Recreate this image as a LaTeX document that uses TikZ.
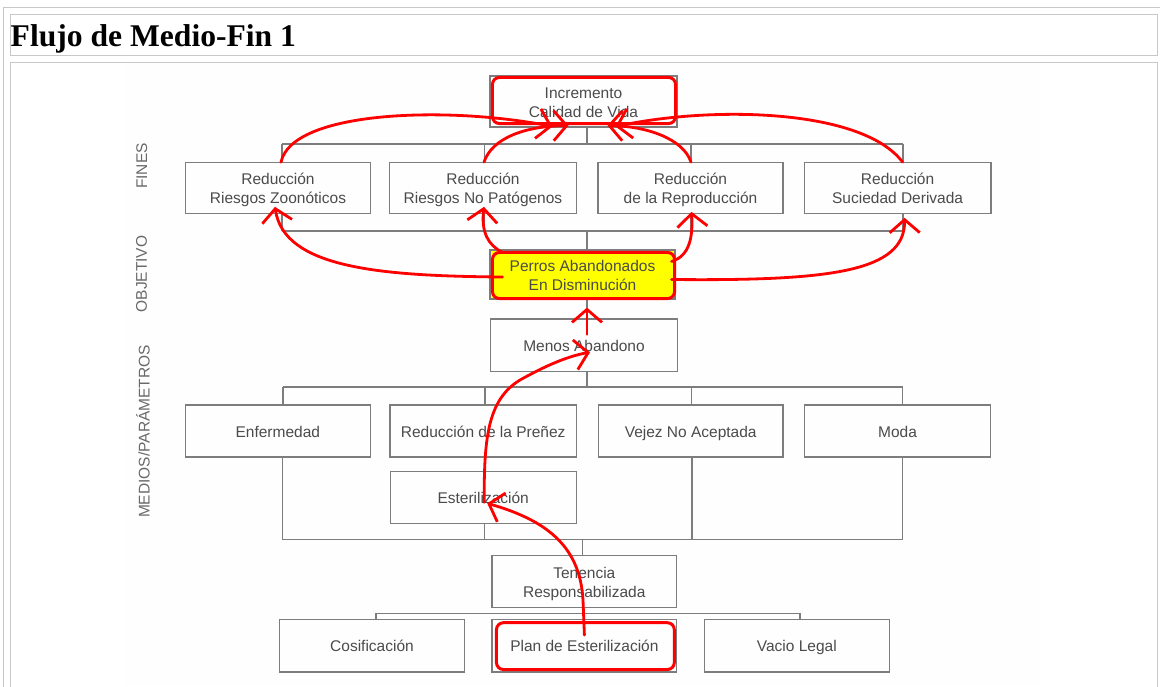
\documentclass[tikz,border=0pt]{standalone}
\usepackage{fontspec}
\setmainfont{Liberation Serif}
\setsansfont{Liberation Sans}
\usetikzlibrary{arrows.meta,calc}
\definecolor{framegray}{RGB}{200,200,200}
\definecolor{boxgray}{RGB}{125,125,125}
\definecolor{txtgray}{RGB}{75,75,75}
\definecolor{lblgray}{RGB}{105,105,105}
\definecolor{bgimg}{RGB}{253,254,253}
\definecolor{hlred}{RGB}{255,0,0}
\definecolor{hlyellow}{RGB}{255,255,0}
\newcommand\mystrut{\rule[-3.5pt]{0pt}{19pt}}
\begin{document}
\begin{tikzpicture}[x=1pt,y=1pt,
  box/.style={draw=boxgray, line width=1.1pt, inner sep=0pt, align=center,
    text=txtgray, font=\sffamily\fontsize{15.5}{19}\selectfont},
  lbl/.style={font=\sffamily\fontsize{15.5}{18}\selectfont, text=lblgray, inner sep=0pt},
  conn/.style={draw=boxgray, line width=1.1pt},
  hl/.style={draw=hlred, line width=3pt, rounded corners=7pt},
  redarr/.style={draw=hlred, line width=2.8pt, line cap=round,
    -{Straight Barb[length=13pt,width=30pt]}}
]
\useasboundingbox (0,0) rectangle (1160,-686);
\fill[white] (0,0) rectangle (1160,-686);
% page frame
\draw[framegray, line width=1pt] (3.5,-690) -- (3.5,-7.5) -- (1165,-7.5);
\draw[framegray, line width=1pt] (10.5,-14.5) rectangle (1157.5,-55);
\draw[framegray, line width=1pt] (10.5,-690) -- (10.5,-62) -- (1157.5,-62) -- (1157.5,-690);
\fill[bgimg] (125,-63) rectangle (1041,-686);
\node[anchor=base west, inner sep=0pt, font=\bfseries\fontsize{31.6}{36}\selectfont] (title) at (10.5,-46) {Flujo de Medio-Fin 1};

% side labels
\node[lbl, rotate=90] (lfin) at (141.7,-166) {FINES};
\node[lbl, rotate=90] (lobj) at (141.5,-274) {OBJETIVO};
\node[lbl, rotate=90] (lmed) at (143,-431.5) {MEDIOS/PARÁMETROS};

% boxes
\node[box, minimum width=187pt, minimum height=51pt] (inc) at (583.5,-101.5) {\mystrut Incremento\\\mystrut Calidad de Vida};
\node[box, minimum width=185pt, minimum height=50.6pt] (zoo) at (278,-188) {\mystrut Reducción\\\mystrut Riesgos Zoonóticos};
\node[box, minimum width=187pt, minimum height=50.6pt] (nop) at (483,-188) {\mystrut Reducción\\\mystrut Riesgos No Patógenos};
\node[box, minimum width=185pt, minimum height=50.6pt] (rep) at (690.5,-188) {\mystrut Reducción\\\mystrut de la Reproducción};
\node[box, minimum width=186.7pt, minimum height=50.6pt] (suc) at (897.6,-188) {\mystrut Reducción\\\mystrut Suciedad Derivada};
\node[box, fill=hlyellow, minimum width=185pt, minimum height=49pt] (per) at (582.5,-274.5) {\mystrut Perros Abandonados\\\mystrut En Disminución};
\node[box, minimum width=187pt, minimum height=52.7pt] (men) at (584,-345.3) {\mystrut Menos Abandono};
\node[box, minimum width=185.5pt, minimum height=52pt] (enf) at (277.8,-431) {\mystrut Enfermedad};
\node[box, minimum width=186.5pt, minimum height=52pt] (pre) at (483.2,-431) {\mystrut Reducción de la Preñez};
\node[box, minimum width=184.5pt, minimum height=52pt] (vej) at (690.7,-431) {\mystrut Vejez No Aceptada};
\node[box, minimum width=186.5pt, minimum height=52pt] (moda) at (897.5,-431) {\mystrut Moda};
\node[box, minimum width=186pt, minimum height=52pt] (est) at (483.2,-497.3) {\mystrut Esterilización};
\node[box, minimum width=184.7pt, minimum height=51.6pt] (ten) at (584.3,-581.5) {\mystrut Tenencia\\\mystrut Responsabilizada};
\node[box, minimum width=185pt, minimum height=52.7pt] (cos) at (372,-645.6) {\mystrut Cosificación};
\node[box, minimum width=184.8pt, minimum height=52.7pt] (plan) at (584.4,-645.6) {\mystrut Plan de Esterilización};
\node[box, minimum width=184.8pt, minimum height=52.7pt] (vac) at (796.8,-645.6) {\mystrut Vacio Legal};

% bus coordinates
\coordinate (f1) at (282,-144);   \coordinate (f2) at (484.5,-144);
\coordinate (f3) at (691,-144);   \coordinate (f4) at (903,-144);
\coordinate (fc) at (587,-144);
\coordinate (g1) at (282,-231);   \coordinate (g2) at (484.5,-231);
\coordinate (g3) at (691,-231);   \coordinate (g4) at (903,-231);
\coordinate (gc) at (587,-231);
\coordinate (m1) at (283,-387);   \coordinate (m2) at (485,-387);
\coordinate (m3) at (691.5,-387); \coordinate (m4) at (902.5,-387);
\coordinate (mc) at (587,-387);
\coordinate (n1) at (282.5,-539.5); \coordinate (n2) at (484.5,-539.5);
\coordinate (n3) at (692,-539.5);   \coordinate (n4) at (902.5,-539.5);
\coordinate (nc) at (582.3,-539.5);
\coordinate (t1) at (376,-613.3); \coordinate (t2) at (584.4,-613.3);
\coordinate (t3) at (800,-613.3); \coordinate (tc) at (582.3,-613.3);

% gray tree connectors
\draw[conn] (f1) -- (f4);
\draw[conn] (fc) -- (fc |- inc.south);
\draw[conn] (f1) -- (f1 |- zoo.north);
\draw[conn] (f2) -- (f2 |- nop.north);
\draw[conn] (f3) -- (f3 |- rep.north);
\draw[conn] (f4) -- (f4 |- suc.north);
\draw[conn] (g1) -- (g4);
\draw[conn] (g1) -- (g1 |- zoo.south);
\draw[conn] (g2) -- (g2 |- nop.south);
\draw[conn] (g3) -- (g3 |- rep.south);
\draw[conn] (g4) -- (g4 |- suc.south);
\draw[conn] (gc) -- (gc |- per.north);
\draw[conn] (per.south -| gc) -- (men.north -| gc);
\draw[conn] (m1) -- (m4);
\draw[conn] (mc) -- (mc |- men.south);
\draw[conn] (m1) -- (m1 |- enf.north);
\draw[conn] (m2) -- (m2 |- pre.north);
\draw[conn] (m3) -- (m3 |- vej.north);
\draw[conn] (m4) -- (m4 |- moda.north);
\draw[conn] (pre.south -| n2) -- (est.north -| n2);
\draw[conn] (n1) -- (n4);
\draw[conn] (n1) -- (n1 |- enf.south);
\draw[conn] (n2) -- (n2 |- est.south);
\draw[conn] (n3) -- (n3 |- vej.south);
\draw[conn] (n4) -- (n4 |- moda.south);
\draw[conn] (nc) -- (nc |- ten.north);
\draw[conn] (t1) -- (t3);
\draw[conn] (tc) -- (tc |- ten.south);
\draw[conn] (t1) -- (t1 |- cos.north);
\draw[conn] (t2) -- (t2 |- plan.north);
\draw[conn] (t3) -- (t3 |- vac.north);

% red highlight frames
\draw[hl] ($(inc.north west)+(3,-2)$) rectangle ($(inc.south east)+(-2,4)$);
\draw[hl] ($(per.north west)+(3,-3)$) rectangle ($(per.south east)+(-1,1)$);
\draw[hl] ($(plan.north west)+(5,-4)$) rectangle ($(plan.south east)+(-3,3)$);

% red arrows to Incremento
\draw[redarr] ($(zoo.north)+(3,0)$) .. controls (292,-110) and (450,-106) .. ($(inc.south)+(-31,1)$);
\draw[redarr] ($(nop.north)+(1,0)$) .. controls (492,-138) and (525,-126) .. ($(inc.south)+(-15,2)$);
\draw[redarr] ($(rep.north)+(0.5,0)$) .. controls (683,-138) and (645,-126) .. ($(inc.south)+(24,2)$);
\draw[redarr] ($(suc.north)+(5,0)$) .. controls (862,-108) and (710,-106) .. ($(inc.south)+(32,1)$);
% red arrows from Perros
\draw[redarr] ($(per.west)+(13,-2.5)$) .. controls (380,-276) and (284,-268) .. ($(zoo.south)+(-3,7)$);
\draw[redarr] ($(per.north west)+(13,-3)$) .. controls (488,-245) and (481,-232) .. ($(nop.south)+(1,7)$);
\draw[redarr] ($(per.north east)+(-4,-12)$) .. controls (690,-256) and (693,-236) .. ($(rep.south)+(1,2)$);
\draw[redarr] ($(per.east)+(-4,-5)$) .. controls (830,-281) and (905,-272) .. ($(suc.south)+(7,-4)$);
% lower red arrows
\draw[redarr] ($(men.north)+(3,-16)$) -- ($(per.south)+(4.5,-8)$);
\draw[redarr] ($(est.center)+(1,-5)$) .. controls (484,-440) and (487,-400) .. (520,-380)
  .. controls (545,-366) and (568,-356) .. ($(men.center)+(6,-7)$);
\draw[redarr] ($(plan.center)+(0,10.6)$) -- (583,-600) .. controls (580,-545) and (545,-520) .. ($(est.center)+(4,-6)$);
\end{tikzpicture}
\end{document}
